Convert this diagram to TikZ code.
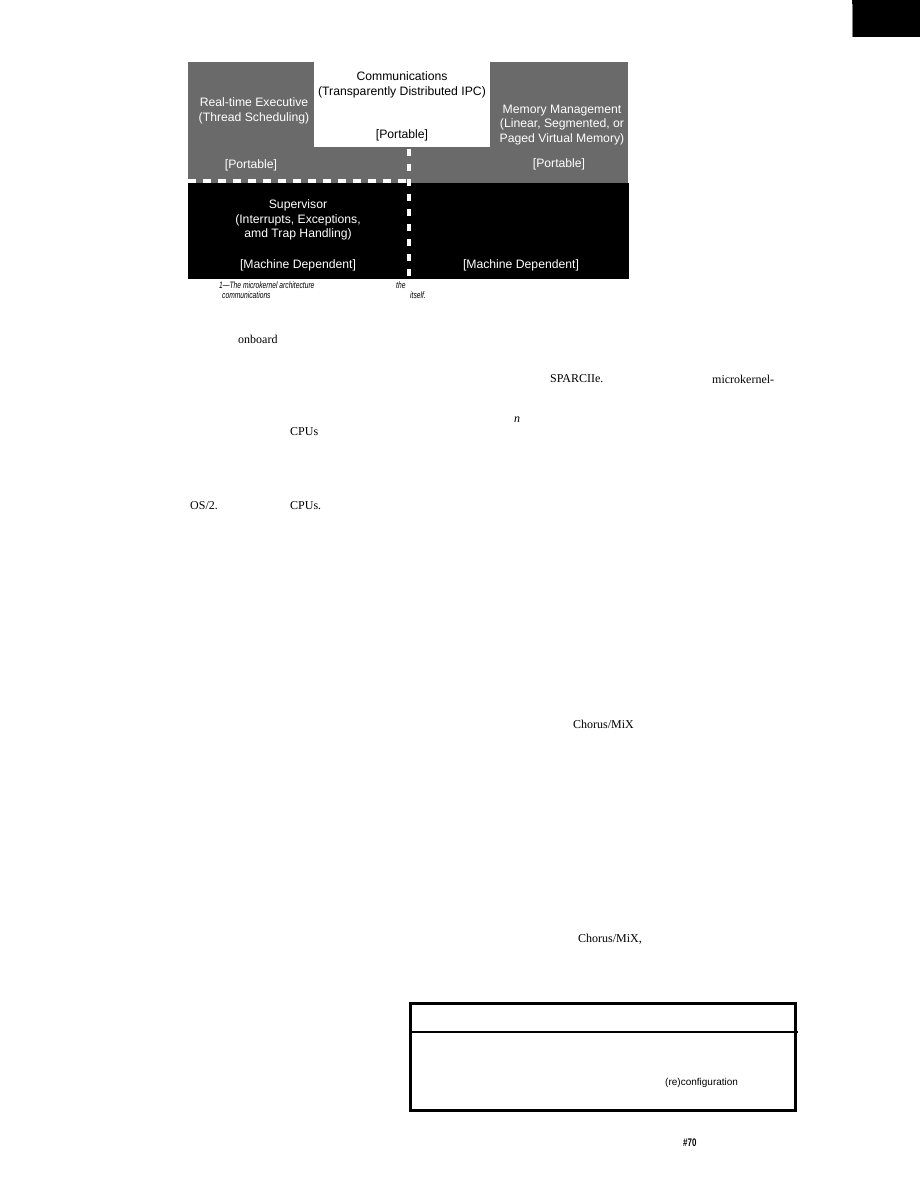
\documentclass[tikz,border=0pt]{standalone}
\usepackage{fontspec}
\setmainfont{Liberation Serif}
\newfontfamily\dsans{Liberation Sans}
\newfontfamily\capfont{Liberation Sans}[FakeStretch=0.72]
\definecolor{halftone}{HTML}{6A6A6A}
\tikzset{
  dtext/.style={font=\dsans\fontsize{12.2}{14.6}\selectfont, text=white, align=center, inner sep=0pt},
  wtext/.style={dtext, text=black},
  captext/.style={font=\capfont\itshape\fontsize{9.3}{10}\selectfont, anchor=west, inner sep=0pt},
  bodytext/.style={font=\fontsize{12}{14}\selectfont, anchor=west, inner sep=0pt},
  dashline/.style={white, line width=4pt, dash pattern=on 8pt off 7pt},
  vdashline/.style={white, line width=3.5pt, dash pattern=on 7pt off 8pt},
  framebox/.style={black, line width=3pt}
}
\begin{document}
\begin{tikzpicture}[x=1pt, y=-1pt]
\useasboundingbox (0,0) rectangle (920,1190);
\fill[white] (0,0) rectangle (920,1190);
% top-right corner block
\fill[black] (852,0) rectangle (920,37);
\draw[gray, line width=1pt] (852,4) -- (852,37);
% diagram regions
\fill[halftone] (188,62) rectangle (628,183);
\fill[black] (188,183) rectangle (629,279);
\fill[white] (314,62) rectangle (490,147);
% dashed separators
\coordinate (hl) at (188,181);
\coordinate (corner) at (410,181);
\coordinate (vt) at (409,149);
\coordinate (vb) at (409,280);
\draw[dashline] (hl) -- (corner);
\draw[vdashline] (vt) -- (vb);
% diagram texts
\node[dtext] (rte) at (254,111) {Real-time Executive\\(Thread Scheduling)};
\node[dtext] (p1) at (251,165) {[Portable]};
\node[wtext] (comm) at (402,85) {Communications\\(Transparently Distributed IPC)};
\node[wtext] (p2) at (402,135) {[Portable]};
\node[dtext] (mm) at (562,125) {Memory Management\\(Linear, Segmented, or\\Paged Virtual Memory)};
\node[dtext] (p3) at (559,164) {[Portable]};
\node[dtext] (sup) at (298,220) {Supervisor\\(Interrupts, Exceptions,\\amd Trap Handling)};
\node[dtext] (md1) at (298,265) {[Machine Dependent]};
\node[dtext] (md2) at (521,265) {[Machine Dependent]};
% caption fragments
\node[captext] (c1) at (219,285) {1—The microkernel architecture};
\node[captext] (c2) at (222,295) {communications};
\node[captext] (c3) at (396,285) {the};
\node[captext] (c4) at (410,295) {itself.};
% body text fragments
\node[bodytext] (t1) at (238,339) {onboard};
\node[bodytext] (t2) at (550,379) {SPARCIIe.};
\node[bodytext] (t3) at (712,379) {microkernel-};
\node[bodytext] (t4) at (514,420) {\itshape n};
\node[bodytext] (t5) at (290,432) {CPUs};
\node[bodytext] (t6) at (190,506) {OS/2.};
\node[bodytext] (t7) at (290,506) {CPUs.};
\node[bodytext] (t8) at (573,724) {Chorus/MiX};
\node[bodytext] (t9) at (578,939) {Chorus/MiX,};
% sidebar box
\draw[framebox] (410,1003) rectangle (795,1110);
\coordinate (sl) at (410,1032);
\coordinate (sr) at (798,1032);
\draw[black, line width=2pt] (sl) -- (sr);
\node[font=\dsans\fontsize{10}{12}\selectfont, anchor=west, inner sep=0pt] (rc) at (665,1083) {(re)configuration};
% page number
\node[font=\capfont\bfseries\fontsize{11}{12}\selectfont, anchor=west, inner sep=0pt] (pg) at (683,1143) {\#70};
\end{tikzpicture}
\end{document}
